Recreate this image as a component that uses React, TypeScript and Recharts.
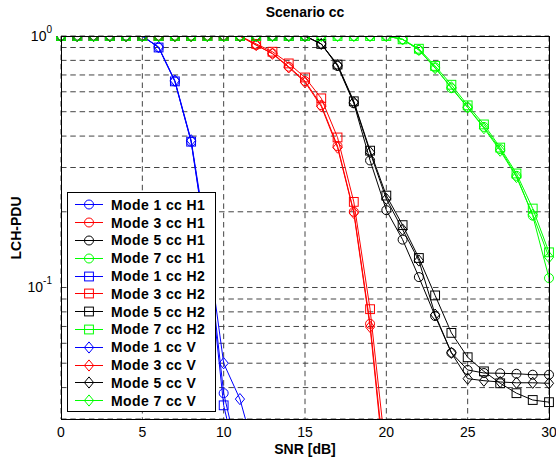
import React from "react";
import { CartesianGrid, Line, LineChart, XAxis, YAxis } from "recharts";

const snr = [0, 1, 2, 3, 4, 5, 6, 7, 8, 9, 10, 11, 12, 13, 14, 15, 16, 17, 18, 19, 20, 21, 22, 23, 24, 25, 26, 27, 28, 29, 30];
const xTicks = [0, 5, 10, 15, 20, 25, 30];
const yTicks = [0.03, 0.04, 0.05, 0.06, 0.07, 0.08, 0.09, 0.1, 0.2, 0.3, 0.4, 0.5, 0.6, 0.7, 0.8, 0.9, 1];

const mode1H1 = [1, 1, 1, 1, 1, 1, 0.9, 0.66, 0.38, 0.145, 0.038, 0.02, null, null, null, null, null, null, null, null, null, null, null, null, null, null, null, null, null, null, null];
const mode3H1 = [1, 1, 1, 1, 1, 1, 1, 1, 1, 1, 1, 1, 0.92, 0.853, 0.755, 0.662, 0.531, 0.365, 0.2, 0.0717, 0.017, null, null, null, null, null, null, null, null, null, null];
const mode5H1 = [1, 1, 1, 1, 1, 1, 1, 1, 1, 1, 1, 1, 1, 1, 1, 1, 0.93, 0.76, 0.54, 0.32, 0.203, 0.155, 0.11, 0.077, 0.055, 0.047, 0.0457, 0.0456, 0.0454, 0.045, 0.045];
const mode7H1 = [1, 1, 1, 1, 1, 1, 1, 1, 1, 1, 1, 1, 1, 1, 1, 1, 1, 1, 1, 1, 1, 0.97, 0.88, 0.75, 0.62, 0.52, 0.435, 0.355, 0.278, 0.193, 0.109];

const mode1H2 = [1, 1, 1, 1, 1, 1, 0.9, 0.66, 0.38, 0.14, 0.034, 0.018, null, null, null, null, null, null, null, null, null, null, null, null, null, null, null, null, null, null, null];
const mode3H2 = [1, 1, 1, 1, 1, 1, 1, 1, 1, 1, 1, 1, 0.93, 0.866, 0.778, 0.684, 0.565, 0.395, 0.219, 0.082, 0.021, null, null, null, null, null, null, null, null, null, null];
const mode5H2 = [1, 1, 1, 1, 1, 1, 1, 1, 1, 1, 1, 1, 1, 1, 1, 1, 0.93, 0.77, 0.55, 0.35, 0.232, 0.177, 0.131, 0.093, 0.066, 0.0528, 0.0464, 0.0416, 0.038, 0.0357, 0.035];
const mode7H2 = [1, 1, 1, 1, 1, 1, 1, 1, 1, 1, 1, 1, 1, 1, 1, 1, 1, 1, 1, 1, 1, 0.97, 0.89, 0.76, 0.64, 0.53, 0.445, 0.36, 0.284, 0.206, 0.138];

const mode1V = [1, 1, 1, 1, 1, 1, 0.905, 0.665, 0.385, 0.15, 0.05, 0.036, 0.021, null, null, null, null, null, null, null, null, null, null, null, null, null, null, null, null, null, null];
const mode3V = [1, 1, 1, 1, 1, 1, 1, 1, 1, 1, 1, 1, 0.92, 0.85, 0.75, 0.655, 0.525, 0.36, 0.198, 0.0697, 0.016, null, null, null, null, null, null, null, null, null, null];
const mode5V = [1, 1, 1, 1, 1, 1, 1, 1, 1, 1, 1, 1, 1, 1, 1, 1, 0.93, 0.765, 0.545, 0.345, 0.225, 0.17, 0.128, 0.078, 0.055, 0.0434, 0.0426, 0.0421, 0.0418, 0.0418, 0.0416];
const mode7V = [1, 1, 1, 1, 1, 1, 1, 1, 1, 1, 1, 1, 1, 1, 1, 1, 1, 1, 1, 1, 1, 0.97, 0.88, 0.745, 0.625, 0.52, 0.43, 0.35, 0.275, 0.195, 0.132];

type Marker = "circle" | "square" | "diamond";

const series: { key: string; name: string; color: string; marker: Marker; values: (number | null)[] }[] = [
  { key: "m1h1", name: "Mode 1 cc H1", color: "#0000ff", marker: "circle", values: mode1H1 },
  { key: "m3h1", name: "Mode 3 cc H1", color: "#ff0000", marker: "circle", values: mode3H1 },
  { key: "m5h1", name: "Mode 5 cc H1", color: "#000000", marker: "circle", values: mode5H1 },
  { key: "m7h1", name: "Mode 7 cc H1", color: "#00ff00", marker: "circle", values: mode7H1 },
  { key: "m1h2", name: "Mode 1 cc H2", color: "#0000ff", marker: "square", values: mode1H2 },
  { key: "m3h2", name: "Mode 3 cc H2", color: "#ff0000", marker: "square", values: mode3H2 },
  { key: "m5h2", name: "Mode 5 cc H2", color: "#000000", marker: "square", values: mode5H2 },
  { key: "m7h2", name: "Mode 7 cc H2", color: "#00ff00", marker: "square", values: mode7H2 },
  { key: "m1v", name: "Mode 1 cc V", color: "#0000ff", marker: "diamond", values: mode1V },
  { key: "m3v", name: "Mode 3 cc V", color: "#ff0000", marker: "diamond", values: mode3V },
  { key: "m5v", name: "Mode 5 cc V", color: "#000000", marker: "diamond", values: mode5V },
  { key: "m7v", name: "Mode 7 cc V", color: "#00ff00", marker: "diamond", values: mode7V },
];

const rows = snr.map((x, i) => {
  const row: Record<string, number | null> = { snr: x };
  series.forEach((s) => {
    row[s.key] = s.values[i];
  });
  return row;
});

const FONT = '"Liberation Sans", Arial, Helvetica, sans-serif';

function markerShape(marker: Marker, cx: number, cy: number, color: string, key?: string | number) {
  if (marker === "circle") {
    return <circle key={key} cx={cx} cy={cy} r={4.5} fill="none" stroke={color} strokeWidth={1} />;
  }
  if (marker === "square") {
    return <rect key={key} x={cx - 4.4} y={cy - 4.4} width={8.8} height={8.8} fill="none" stroke={color} strokeWidth={1} />;
  }
  return (
    <polygon
      key={key}
      points={`${cx},${cy - 5.6} ${cx + 4.6},${cy} ${cx},${cy + 5.6} ${cx - 4.6},${cy}`}
      fill="none"
      stroke={color}
      strokeWidth={1}
    />
  );
}

function makeDot(marker: Marker, color: string) {
  return (props: any) => {
    const { cx, cy, index } = props;
    if (cx == null || cy == null || props.value == null) return <g key={`e-${index}`} />;
    return markerShape(marker, cx, cy, color, `d-${index}`);
  };
}

function YTick(props: any) {
  const { x, y, payload } = props;
  let exp = "";
  if (payload.value === 1) exp = "0";
  else if (payload.value === 0.1) exp = "-1";
  if (!exp) return <g />;
  return (
    <text x={x - 1} y={y + 5} textAnchor="end" fontFamily={FONT} fontSize={14} fill="#000">
      10
      <tspan dy={-8} fontSize={10}>
        {exp}
      </tspan>
    </text>
  );
}

function LegendBox() {
  return (
    <div
      style={{
        position: "absolute",
        left: 67,
        top: 192,
        width: 149,
        height: 220,
        boxSizing: "border-box",
        border: "1px solid #000",
        background: "#fff",
        paddingTop: 3,
      }}
    >
      {series.map((s) => (
        <div key={s.key} style={{ display: "flex", alignItems: "center", height: 17.8 }}>
          <svg width={43} height={17} style={{ flex: "none" }}>
            <line x1={7} x2={35} y1={8.5} y2={8.5} stroke={s.color} strokeWidth={1} />
            {markerShape(s.marker, 21, 8.5, s.color)}
          </svg>
          <span
            style={{
              fontFamily: FONT,
              fontWeight: "bold",
              fontSize: 14,
              letterSpacing: 0.4,
              color: "#000",
              whiteSpace: "nowrap",
            }}
          >
            {s.name}
          </span>
        </div>
      ))}
    </div>
  );
}

export default function App() {
  return (
    <div style={{ position: "absolute", left: 0, top: 0, width: 556, height: 466, background: "#fff" }}>
      <LineChart width={556} height={466} data={rows} margin={{ top: 36, right: 7, bottom: 0, left: 0 }}>
        <CartesianGrid stroke="#444" strokeDasharray="5.5 3.8" />
        <XAxis
          dataKey="snr"
          type="number"
          domain={[0, 30]}
          ticks={xTicks}
          height={47}
          tickLine={false}
          axisLine={false}
          tick={{ fontFamily: FONT, fontSize: 14, fill: "#000" }}
        />
        <YAxis
          type="number"
          scale="log"
          domain={[0.03, 1]}
          ticks={yTicks}
          allowDataOverflow
          width={61}
          tickLine={false}
          axisLine={false}
          tick={<YTick />}
          interval={0}
        />
        {series.map((s) => (
          <Line
            key={s.key}
            dataKey={s.key}
            name={s.name}
            stroke={s.color}
            strokeWidth={1}
            dot={makeDot(s.marker, s.color)}
            activeDot={false}
            isAnimationActive={false}
          />
        ))}
      </LineChart>
      <div
        style={{
          position: "absolute",
          left: 61,
          top: 36,
          width: 489,
          height: 384,
          boxSizing: "border-box",
          border: "1px solid #000",
          pointerEvents: "none",
        }}
      />
      <LegendBox />
      <div
        style={{
          position: "absolute",
          left: 205,
          top: 3,
          width: 200,
          textAlign: "center",
          fontFamily: FONT,
          fontWeight: "bold",
          fontSize: 14,
          lineHeight: "18px",
        }}
      >
        Scenario cc
      </div>
      <div
        style={{
          position: "absolute",
          left: 205,
          top: 440,
          width: 200,
          textAlign: "center",
          fontFamily: FONT,
          fontWeight: "bold",
          fontSize: 14,
          lineHeight: "18px",
        }}
      >
        SNR [dB]
      </div>
      <div
        style={{
          position: "absolute",
          left: 16 - 50,
          top: 228 - 9,
          width: 100,
          textAlign: "center",
          fontFamily: FONT,
          fontWeight: "bold",
          fontSize: 14,
          lineHeight: "18px",
          transform: "rotate(-90deg)",
        }}
      >
        LCH-PDU
      </div>
    </div>
  );
}
